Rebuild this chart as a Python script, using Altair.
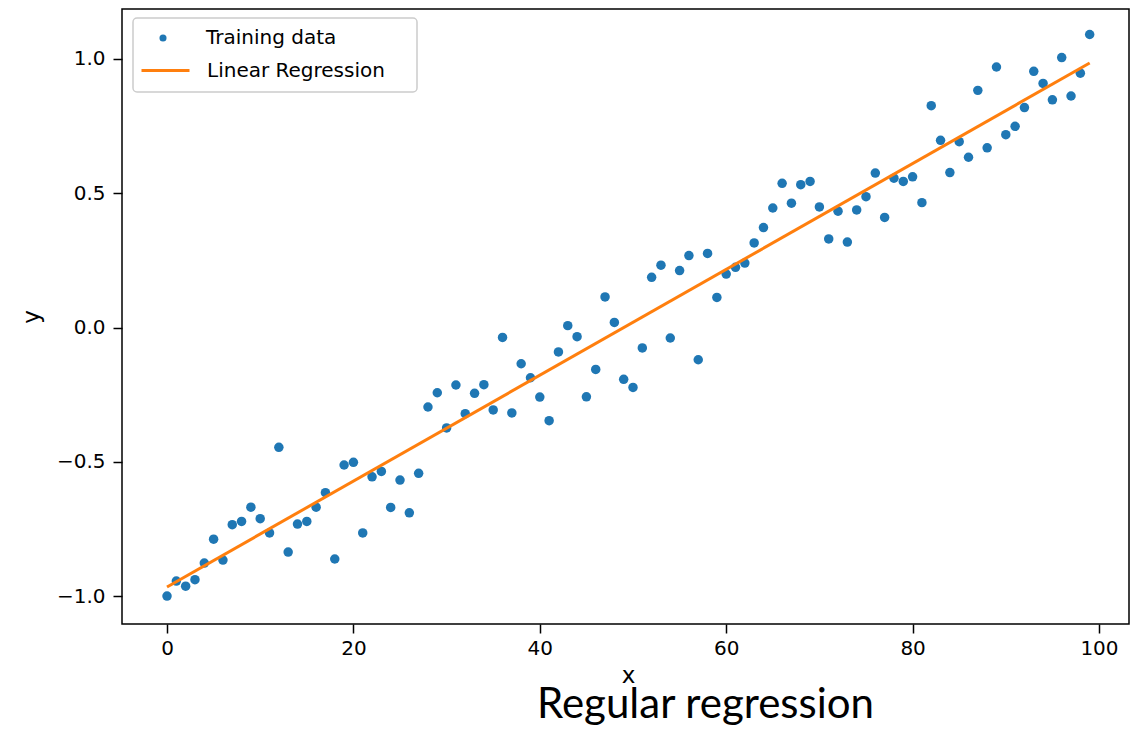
import altair as alt
import pandas as pd

# ---- data ----
x_values = list(range(100))
y_values = [
    -1.000, -0.944, -0.963, -0.939, -0.877, -0.788, -0.866, -0.734, -0.722, -0.669,
    -0.712, -0.765, -0.446, -0.836, -0.732, -0.722, -0.669, -0.615, -0.862, -0.512,
    -0.502, -0.765, -0.556, -0.536, -0.670, -0.568, -0.690, -0.543, -0.296, -0.243,
    -0.374, -0.214, -0.321, -0.245, -0.213, -0.307, -0.037, -0.318, -0.135, -0.187,
    -0.259, -0.347, -0.091, 0.007, -0.034, -0.258, -0.156, 0.114, 0.019, -0.193,
    -0.223, -0.076, 0.187, 0.232, -0.039, 0.212, 0.268, -0.120, 0.276, 0.112,
    0.199, 0.224, 0.240, 0.315, 0.372, 0.445, 0.537, 0.463, 0.532, 0.544,
    0.449, 0.330, 0.433, 0.318, 0.438, 0.487, 0.575, 0.410, 0.556, 0.544,
    0.561, 0.465, 0.826, 0.697, 0.577, 0.692, 0.634, 0.883, 0.669, 0.970,
    0.718, 0.749, 0.819, 0.954, 0.909, 0.848, 1.005, 0.862, 0.947, 1.091,
]
line_x = [0, 99]
line_y = [-0.966, 0.985]
series_names = ["Training data", "Linear Regression"]
x_ticks = [0, 20, 40, 60, 80, 100]
y_ticks = [-1.0, -0.5, 0.0, 0.5, 1.0]

pts = pd.DataFrame({"x": x_values, "y": y_values, "s": series_names[0]})
ln = pd.DataFrame({"x": line_x, "y": line_y, "s": series_names[1]})

FONT = "DejaVu Sans"

xscale = alt.Scale(domain=[-4.83, 103.22], nice=False, zero=False)
yscale = alt.Scale(domain=[-1.104, 1.186], nice=False, zero=False)

xaxis = alt.Axis(values=x_ticks, format="d", title="x", grid=False, domain=False,
                 tickSize=9, tickWidth=1.5, tickColor="black",
                 labelFont=FONT, labelFontSize=20, labelColor="black", labelPadding=5,
                 titleFont=FONT, titleFontSize=23, titleFontWeight="normal",
                 titleColor="black", titlePadding=6, titleX=506)
yaxis = alt.Axis(values=y_ticks, format=".1f", title="y", grid=False, domain=False,
                 tickSize=9, tickWidth=1.5, tickColor="black",
                 labelFont=FONT, labelFontSize=20, labelColor="black", labelPadding=8,
                 titleFont=FONT, titleFontSize=23, titleFontWeight="normal",
                 titleColor="black", titlePadding=13)

points = alt.Chart(pts).mark_point(filled=True, size=90, opacity=1).encode(
    x=alt.X("x:Q", scale=xscale, axis=xaxis),
    y=alt.Y("y:Q", scale=yscale, axis=yaxis),
    fill=alt.Fill("s:N", scale=alt.Scale(domain=[series_names[0]], range=["#1f77b4"]),
                  legend=alt.Legend(title=None, orient="none", legendX=31, legendY=19,
                                    symbolSize=50, symbolType="circle",
                                    labelFont=FONT, labelFontSize=20, labelColor="black",
                                    labelOffset=33, labelLimit=0, padding=0)),
)

line = alt.Chart(ln).mark_line(strokeWidth=3).encode(
    x="x:Q",
    y="y:Q",
    stroke=alt.Stroke("s:N", scale=alt.Scale(domain=[series_names[1]], range=["#ff7f0e"]),
                      legend=alt.Legend(title=None, orient="none", legendX=18, legendY=36,
                                        symbolSize=2304, symbolType="stroke",
                                        symbolStrokeWidth=3,
                                        labelFont=FONT, labelFontSize=20, labelColor="black",
                                        labelOffset=16, labelLimit=0, padding=0)),
)

legend_box = alt.Chart(pd.DataFrame({"k": [0]})).mark_rect(
    fill="white", fillOpacity=0.8, stroke="#cccccc", strokeWidth=1.5, cornerRadius=4
).encode(x=alt.value(11), x2=alt.value(295), y=alt.value(9), y2=alt.value(83))

chart = alt.layer(points, line, legend_box).resolve_scale(
    fill="independent", stroke="independent"
).properties(
    width=1007,
    height=615,
    autosize=alt.AutoSizeParams(type="none"),
    padding={"left": 114, "top": 1, "right": 1, "bottom": 103},
    title=alt.TitleParams("Regular regression", orient="bottom", anchor="middle",
                          dx=80, offset=-2, font="Lato", fontSize=42,
                          fontWeight="normal", color="black"),
).configure_view(stroke="black", strokeWidth=1.5)

chart.save("out.html", embed_options={"renderer": "svg", "actions": False})
